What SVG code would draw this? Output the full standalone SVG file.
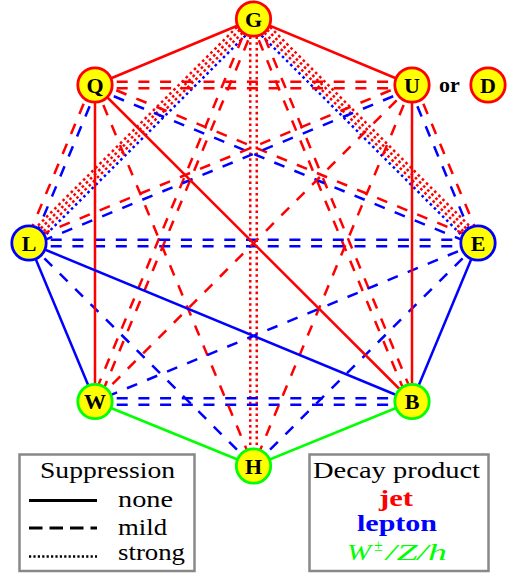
<svg xmlns="http://www.w3.org/2000/svg" width="510" height="573" viewBox="0 0 510 573">
<style>
.e{fill:none;stroke-width:2.5}
.d{stroke-dasharray:11 10.7}
.t{stroke-dasharray:2.6 3.2}
.r{stroke:#f00}.b{stroke:#00f}.g{stroke:#0f0}
.node circle{fill:#ff0;stroke-width:2.8}
.lbl{font-family:"Liberation Serif",serif;font-weight:bold;font-size:22px;text-anchor:middle;fill:#000}
.leg{font-family:"Liberation Serif",serif;font-size:24px;fill:#000}
.box{fill:#fff;stroke:#888;stroke-width:2.5}
</style>
<rect width="510" height="573" fill="#fff"/>
<g id="connectors">
<line class="e t r" x1="250.25" y1="19" x2="250.25" y2="466"/>
<line class="e t r" x1="256.75" y1="19" x2="256.75" y2="466"/>
<line class="e t r" x1="249.26" y1="14.75" x2="24.76" y2="238.75"/>
<line class="e t r" x1="252.09" y1="17.58" x2="27.59" y2="241.58"/>
<line class="e t r" x1="254.91" y1="20.42" x2="30.41" y2="244.42"/>
<line class="e t b" x1="257.74" y1="23.25" x2="33.24" y2="247.25"/>
<line class="e t r" x1="257.74" y1="14.75" x2="482.24" y2="238.75"/>
<line class="e t r" x1="254.91" y1="17.58" x2="479.41" y2="241.58"/>
<line class="e t r" x1="252.09" y1="20.42" x2="476.59" y2="244.42"/>
<line class="e t b" x1="249.26" y1="23.25" x2="473.76" y2="247.25"/>
<line class="e d r" x1="95" y1="81.75" x2="412" y2="81.75"/>
<line class="e d r" x1="95" y1="88.25" x2="412" y2="88.25"/>
<line class="e d r" x1="256.5" y1="20.24" x2="98" y2="402.74"/>
<line class="e d r" x1="250.5" y1="17.76" x2="92" y2="400.26"/>
<line class="e d r" x1="250.5" y1="20.24" x2="409" y2="402.74"/>
<line class="e d r" x1="256.5" y1="17.76" x2="415" y2="400.26"/>
<line class="e d b" x1="29" y1="239.75" x2="478" y2="239.75"/>
<line class="e d b" x1="29" y1="246.25" x2="478" y2="246.25"/>
<line class="e d b" x1="95" y1="398.25" x2="412" y2="398.25"/>
<line class="e d b" x1="95" y1="404.75" x2="412" y2="404.75"/>
<line class="e d r" x1="92" y1="83.75" x2="26" y2="241.75"/>
<line class="e d b" x1="98" y1="86.25" x2="32" y2="244.25"/>
<line class="e d r" x1="415" y1="83.75" x2="481" y2="241.75"/>
<line class="e d b" x1="409" y1="86.25" x2="475" y2="244.25"/>
<line class="e d r" x1="96.24" y1="82" x2="479.24" y2="240"/>
<line class="e d b" x1="93.76" y1="88" x2="476.76" y2="246"/>
<line class="e d r" x1="410.76" y1="82" x2="27.76" y2="240"/>
<line class="e d b" x1="413.24" y1="88" x2="30.24" y2="246"/>
<line class="e d r" x1="95" y1="85" x2="253.5" y2="466"/>
<line class="e d r" x1="412" y1="85" x2="253.5" y2="466"/>
<line class="e d r" x1="412" y1="85" x2="95" y2="401.5"/>
<line class="e d b" x1="29" y1="243" x2="253.5" y2="466"/>
<line class="e d b" x1="478" y1="243" x2="253.5" y2="466"/>
<line class="e d b" x1="478" y1="243" x2="95" y2="401.5"/>
<line class="e r" x1="253.5" y1="19" x2="95" y2="85"/>
<line class="e r" x1="253.5" y1="19" x2="412" y2="85"/>
<line class="e r" x1="95" y1="85" x2="95" y2="401.5"/>
<line class="e r" x1="412" y1="85" x2="412" y2="401.5"/>
<line class="e r" x1="95" y1="85" x2="412" y2="401.5"/>
<line class="e b" x1="29" y1="243" x2="95" y2="401.5"/>
<line class="e b" x1="478" y1="243" x2="412" y2="401.5"/>
<line class="e b" x1="29" y1="243" x2="412" y2="401.5"/>
<line class="e g" x1="95" y1="401.5" x2="253.5" y2="466"/>
<line class="e g" x1="253.5" y1="466" x2="412" y2="401.5"/>
</g>
<g id="G" class="node"><circle cx="253.5" cy="19" r="17.2" stroke="#f00"/><text class="lbl" x="253.5" y="26.5">G</text></g>
<g id="Q" class="node"><circle cx="95" cy="85" r="17.2" stroke="#f00"/><text class="lbl" x="95" y="92.5">Q</text></g>
<g id="U" class="node"><circle cx="412" cy="85" r="17.2" stroke="#f00"/><text class="lbl" x="412" y="92.5">U</text></g>
<g id="D" class="node"><circle cx="488" cy="85" r="17.2" stroke="#f00"/><text class="lbl" x="488" y="92.5">D</text></g>
<g id="or-label"><text class="lbl" x="449.5" y="92">or</text></g>
<g id="L" class="node"><circle cx="29" cy="243" r="17.2" stroke="#00f"/><text class="lbl" x="29" y="250.5">L</text></g>
<g id="E" class="node"><circle cx="478" cy="243" r="17.2" stroke="#00f"/><text class="lbl" x="478" y="250.5">E</text></g>
<g id="W" class="node"><circle cx="95" cy="401.5" r="17.2" stroke="#0f0"/><text class="lbl" x="95" y="409">W</text></g>
<g id="B" class="node"><circle cx="412" cy="401.5" r="17.2" stroke="#0f0"/><text class="lbl" x="412" y="409">B</text></g>
<g id="H" class="node"><circle cx="253.5" cy="466" r="17.2" stroke="#0f0"/><text class="lbl" x="253.5" y="473.5">H</text></g>
<g id="legend-suppression">
<rect class="box" x="19.5" y="454.5" width="175" height="116.5"/>
<text class="leg" x="107.5" y="478" text-anchor="middle" textLength="135" lengthAdjust="spacingAndGlyphs">Suppression</text>
<line x1="29" y1="500.5" x2="97" y2="500.5" stroke="#000" stroke-width="2.8"/>
<text class="leg" x="118" y="507" textLength="55" lengthAdjust="spacingAndGlyphs">none</text>
<line x1="29" y1="528" x2="97" y2="528" stroke="#000" stroke-width="2.8" stroke-dasharray="13.5 7"/>
<text class="leg" x="118" y="535" textLength="49" lengthAdjust="spacingAndGlyphs">mild</text>
<line x1="29" y1="556.5" x2="97" y2="556.5" stroke="#000" stroke-width="2.4" stroke-dasharray="2.2 2.2"/>
<text class="leg" x="118" y="560" textLength="67" lengthAdjust="spacingAndGlyphs">strong</text>
</g>
<g id="legend-decay">
<rect class="box" x="309.5" y="454.5" width="179" height="116.5"/>
<text class="leg" x="396.5" y="478" text-anchor="middle" textLength="167" lengthAdjust="spacingAndGlyphs">Decay product</text>
<text class="leg" x="396" y="506" text-anchor="middle" font-weight="bold" style="fill:#f00" textLength="34" lengthAdjust="spacingAndGlyphs">jet</text>
<text class="leg" x="397" y="531" text-anchor="middle" font-weight="bold" style="fill:#00f" textLength="80" lengthAdjust="spacingAndGlyphs">lepton</text>
<text class="leg" x="347" y="560" font-style="italic" style="fill:#0f0" textLength="24" lengthAdjust="spacingAndGlyphs">W</text>
<text class="leg" x="374" y="551" style="fill:#0f0;font-size:16px">±</text>
<text class="leg" x="386" y="560" font-style="italic" style="fill:#0f0" textLength="61" lengthAdjust="spacingAndGlyphs">/Z/h</text>
</g>
</svg>
